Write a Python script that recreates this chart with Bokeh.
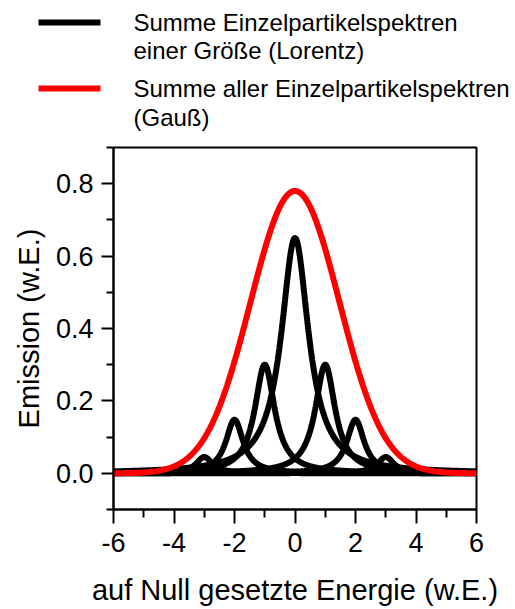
import numpy as np
from bokeh.plotting import figure
from bokeh.layouts import column, row
from bokeh.models import Range1d, FixedTicker
from bokeh.core.properties import value
from bokeh.embed import file_html
from bokeh.resources import INLINE

FONT = "Liberation Sans"

# --- data ---
# single-particle spectra of one size: Lorentz profiles (centre, peak height, half width)
lorentz_centers = [-3, -2, -1, 0, 1, 2, 3]
lorentz_heights = [0.045, 0.148, 0.30, 0.65, 0.30, 0.148, 0.045]
lorentz_gammas = [0.33, 0.35, 0.40, 0.55, 0.40, 0.35, 0.33]
# sum of all single-particle spectra: Gauss profile
gauss_center = 0.0
gauss_height = 0.78
gauss_sigma = 1.47

x_ticks = [-6, -4, -2, 0, 2, 4, 6]
x_minor = [-5, -3, -1, 1, 3, 5]
y_ticks = [0.0, 0.2, 0.4, 0.6, 0.8]
y_tick_labels = ["0.0", "0.2", "0.4", "0.6", "0.8"]
y_minor = [-0.1, 0.1, 0.3, 0.5, 0.7, 0.9]

legend_labels = [["Summe Einzelpartikelspektren", "einer Größe (Lorentz)"],
                 ["Summe aller Einzelpartikelspektren", "(Gauß)"]]
legend_colors = ["black", "red"]

x_label = "auf Null gesetzte Energie (w.E.)"
y_label = "Emission (w.E.)"

X0, X1, Y0, Y1 = -6, 6, -0.1, 0.9
W = 515
LH = 140
ML, MR, MT, MB = 113, 39, 7, 100

# --- legend panel (own small figure in pixel coordinates) ---
leg = figure(width=W, height=LH, x_range=Range1d(0, W), y_range=Range1d(LH, 0),
             output_backend="svg", toolbar_location=None,
             x_axis_location=None, y_axis_location=None, min_border=0,
             min_border_left=0, min_border_right=0, min_border_top=0, min_border_bottom=0)
leg.outline_line_color = None
leg.xgrid.visible = False
leg.ygrid.visible = False
leg.background_fill_color = "white"
leg.border_fill_color = "white"
row_y = [(22, 50), (88, 117)]
for lines, col, (y1, y2) in zip(legend_labels, legend_colors, row_y):
    leg.line([38, 100], [y1, y1], line_color=col, line_width=6)
    leg.text(x=[133, 133], y=[y1, y2], text=lines, text_font=value(FONT),
             text_font_size="24px", text_baseline="middle", text_align="left",
             text_color="black")

# --- main plot ---
p = figure(width=W, height=609 - LH, x_range=Range1d(X0, X1), y_range=Range1d(Y0, Y1),
           output_backend="svg", toolbar_location=None,
           min_border_left=ML, min_border_right=MR, min_border_top=MT, min_border_bottom=MB)
p.xgrid.visible = False
p.ygrid.visible = False
p.background_fill_color = "white"
p.border_fill_color = "white"
p.outline_line_color = "black"
p.outline_line_width = 2
p.outline_line_alpha = 1.0

xs = np.linspace(X0, X1, 1201)
for c, h, g in zip(lorentz_centers, lorentz_heights, lorentz_gammas):
    ys = h / (1.0 + ((xs - c) / g) ** 2)
    p.line(xs, ys, line_color="black", line_width=6)
yg = gauss_height * np.exp(-((xs - gauss_center) ** 2) / (2 * gauss_sigma ** 2))
p.line(xs, yg, line_color="red", line_width=6)

p.xaxis.ticker = FixedTicker(ticks=x_ticks, minor_ticks=x_minor)
p.yaxis.ticker = FixedTicker(ticks=y_ticks, minor_ticks=y_minor)
p.yaxis.major_label_overrides = {t: l for t, l in zip(y_ticks, y_tick_labels)}
p.xaxis.major_label_overrides = {t: str(t) for t in x_ticks}

for ax in (p.xaxis, p.yaxis):
    ax.axis_line_width = 2
    ax.axis_line_color = "black"
    ax.major_tick_line_width = 2
    ax.minor_tick_line_width = 2
    ax.major_tick_line_color = "black"
    ax.minor_tick_line_color = "black"
    ax.major_tick_in = 0
    ax.minor_tick_in = 0
    ax.major_label_text_font = FONT
    ax.major_label_text_font_size = "27px"
    ax.major_label_text_color = "black"
    ax.axis_label_text_font = FONT
    ax.axis_label_text_font_size = "29px"
    ax.axis_label_text_font_style = "normal"
    ax.axis_label_text_color = "black"

p.xaxis.major_tick_out = 14
p.xaxis.minor_tick_out = 8
p.yaxis.major_tick_out = 12
p.yaxis.minor_tick_out = 7
p.xaxis.major_label_standoff = 9
p.yaxis.major_label_standoff = 8
p.xaxis.axis_label = x_label
p.yaxis.axis_label = y_label
p.xaxis.axis_label_standoff = 19
p.yaxis.axis_label_standoff = 8

layout = column(row(leg), row(p), spacing=0)
open("out.html", "w").write(file_html(layout, INLINE))
